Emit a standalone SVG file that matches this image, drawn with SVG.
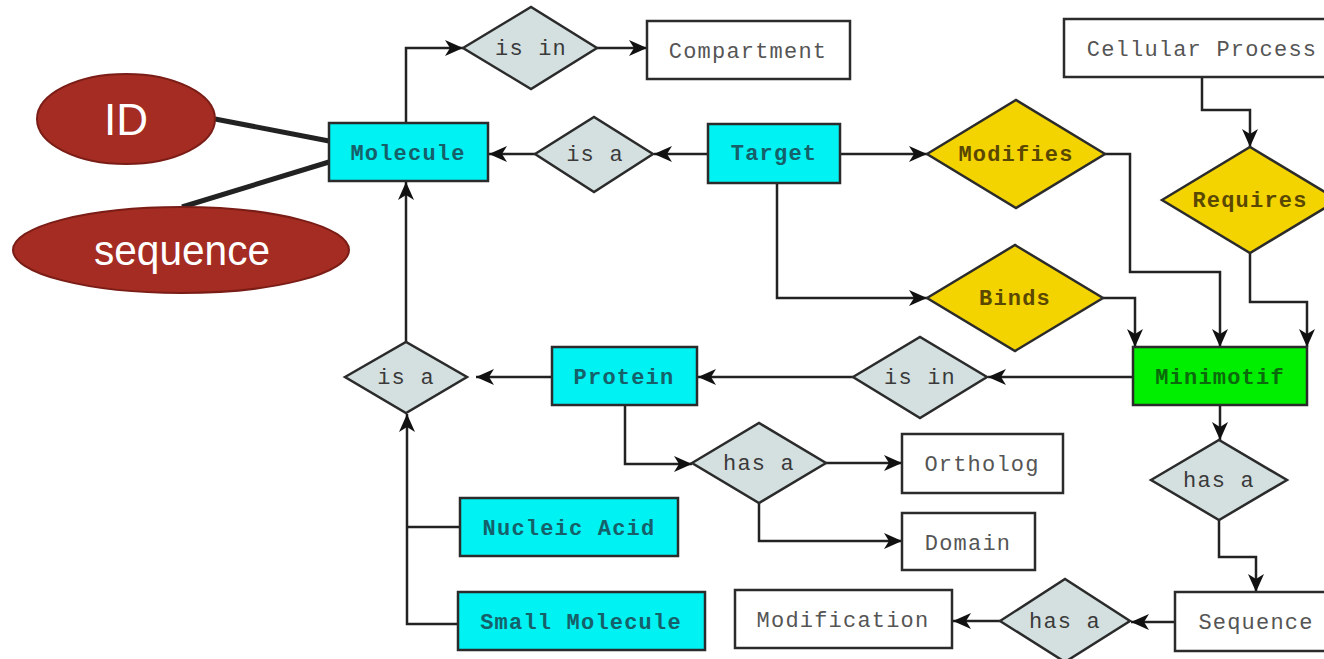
<svg xmlns="http://www.w3.org/2000/svg" width="1324" height="659" viewBox="0 0 1324 659">
  <style>
    .ent { stroke: #2b2b2b; stroke-width: 2.5; }
    .cyan { fill: #00f2f2; }
    .plain { fill: #ffffff; }
    .green { fill: #00ee00; }
    .rel { fill: #d4e0e0; stroke: #2b2b2b; stroke-width: 2.5; }
    .gold { fill: #f4d400; stroke: #2b2b2b; stroke-width: 2.5; }
    .lbl { font-family: "Liberation Mono", "DejaVu Sans Mono", monospace; font-size: 22px; text-anchor: middle; letter-spacing: 1.2px; }
    .t-cyan { fill: #16606a; font-weight: bold; }
    .t-plain { fill: #555555; }
    .t-rel { fill: #3a3a3a; }
    .t-gold { fill: #5a4800; font-weight: bold; }
    .t-green { fill: #0b6a0b; font-weight: bold; }
    .attr { fill: #a52c22; stroke: #7a1d16; stroke-width: 2; }
    .t-attr { font-family: "Liberation Sans", Arial, sans-serif; fill: #ffffff; text-anchor: middle; }
    .wire { fill: none; stroke: #222222; stroke-width: 2.5; }
    .link { fill: none; stroke: #222222; stroke-width: 5; }
  </style>
  <defs>
    <!-- notched arrowhead shared by all directed wires -->
    <marker id="arrow" markerUnits="userSpaceOnUse" markerWidth="20" markerHeight="18" refX="18" refY="8" orient="auto">
      <path d="M0,0 L18,8 L0,16 L5,8 z" fill="#111111"/>
    </marker>
  </defs>
  <rect width="1324" height="659" fill="#ffffff"/>

  <!-- connectors -->
  <g id="connectors">
    <line class="link" x1="215" y1="119" x2="329" y2="141"/>
    <line class="link" x1="182" y1="207" x2="329" y2="162"/>
    <path class="wire" d="M406,123 V48 H463" marker-end="url(#arrow)"/>
    <path class="wire" d="M597,48 H647" marker-end="url(#arrow)"/>
    <path class="wire" d="M708,154 H654" marker-end="url(#arrow)"/>
    <path class="wire" d="M535,154 H489" marker-end="url(#arrow)"/>
    <path class="wire" d="M840,154 H927" marker-end="url(#arrow)"/>
    <path class="wire" d="M777,183 V298 H927" marker-end="url(#arrow)"/>
    <path class="wire" d="M1202,77 V110 H1250 V147" marker-end="url(#arrow)"/>
    <path class="wire" d="M1105,154 H1130 V272 H1220 V347" marker-end="url(#arrow)"/>
    <path class="wire" d="M1103,298 H1135 V347" marker-end="url(#arrow)"/>
    <path class="wire" d="M1250,253 V302 H1307 V347" marker-end="url(#arrow)"/>
    <path class="wire" d="M1133,377 H988" marker-end="url(#arrow)"/>
    <path class="wire" d="M853,377 H698" marker-end="url(#arrow)"/>
    <path class="wire" d="M552,377 H476" marker-end="url(#arrow)"/>
    <path class="wire" d="M406,342 V182" marker-end="url(#arrow)"/>
    <path class="wire" d="M458,624 H407 V414" marker-end="url(#arrow)"/>
    <path class="wire" d="M460,527 H407"/>
    <path class="wire" d="M625,405 V464 H692" marker-end="url(#arrow)"/>
    <path class="wire" d="M826,463 H902" marker-end="url(#arrow)"/>
    <path class="wire" d="M759,503 V541 H902" marker-end="url(#arrow)"/>
    <path class="wire" d="M1220,405 V440" marker-end="url(#arrow)"/>
    <path class="wire" d="M1219,520 V557 H1256 V592" marker-end="url(#arrow)"/>
    <path class="wire" d="M1175,622 H1131" marker-end="url(#arrow)"/>
    <path class="wire" d="M1000,621 H953" marker-end="url(#arrow)"/>
  </g>

  <!-- attributes -->
  <g id="attr-id">
    <ellipse class="attr" cx="126" cy="119" rx="89" ry="45"/>
    <text class="t-attr" x="126" y="135" font-size="44">ID</text>
  </g>
  <g id="attr-sequence">
    <ellipse class="attr" cx="181" cy="250" rx="168" ry="43"/>
    <text class="t-attr" x="182" y="265" font-size="42" textLength="176" lengthAdjust="spacingAndGlyphs">sequence</text>
  </g>

  <!-- entities -->
  <g id="molecule">
    <rect class="ent cyan" x="329" y="123" width="159" height="58"/>
    <text class="lbl t-cyan" x="408" y="160">Molecule</text>
  </g>
  <g id="compartment">
    <rect class="ent plain" x="647" y="21" width="203" height="58"/>
    <text class="lbl t-plain" x="748" y="58">Compartment</text>
  </g>
  <g id="target">
    <rect class="ent cyan" x="708" y="124" width="132" height="59"/>
    <text class="lbl t-cyan" x="774" y="160">Target</text>
  </g>
  <g id="cellular-process">
    <rect class="ent plain" x="1064" y="19" width="280" height="58"/>
    <text class="lbl t-plain" x="1202" y="56">Cellular Process</text>
  </g>
  <g id="minimotif">
    <rect class="ent green" x="1133" y="347" width="174" height="58"/>
    <text class="lbl t-green" x="1220" y="384">Minimotif</text>
  </g>
  <g id="protein">
    <rect class="ent cyan" x="552" y="347" width="145" height="58"/>
    <text class="lbl t-cyan" x="624" y="384">Protein</text>
  </g>
  <g id="nucleic-acid">
    <rect class="ent cyan" x="460" y="498" width="218" height="58"/>
    <text class="lbl t-cyan" x="569" y="535">Nucleic Acid</text>
  </g>
  <g id="small-molecule">
    <rect class="ent cyan" x="458" y="592" width="247" height="58"/>
    <text class="lbl t-cyan" x="581" y="629">Small Molecule</text>
  </g>
  <g id="ortholog">
    <rect class="ent plain" x="902" y="434" width="161" height="59"/>
    <text class="lbl t-plain" x="982" y="471">Ortholog</text>
  </g>
  <g id="domain">
    <rect class="ent plain" x="902" y="513" width="133" height="57"/>
    <text class="lbl t-plain" x="968" y="550">Domain</text>
  </g>
  <g id="sequence">
    <rect class="ent plain" x="1175" y="592" width="170" height="59"/>
    <text class="lbl t-plain" x="1256" y="629">Sequence</text>
  </g>
  <g id="modification">
    <rect class="ent plain" x="735" y="590" width="217" height="58"/>
    <text class="lbl t-plain" x="843" y="627">Modification</text>
  </g>

  <!-- relationships -->
  <g id="rel-is-in-compartment">
    <polygon class="rel" points="463,48 531,7 597,48 531,89"/>
    <text class="lbl t-rel" x="531" y="55">is in</text>
  </g>
  <g id="rel-target-is-a">
    <polygon class="rel" points="535,154 594,117 653,154 594,192"/>
    <text class="lbl t-rel" x="595" y="161">is a</text>
  </g>
  <g id="rel-modifies">
    <polygon class="gold" points="927,154 1016,100 1105,154 1016,208"/>
    <text class="lbl t-gold" x="1016" y="161">Modifies</text>
  </g>
  <g id="rel-binds">
    <polygon class="gold" points="927,298 1015,245 1103,298 1015,351"/>
    <text class="lbl t-gold" x="1015" y="305">Binds</text>
  </g>
  <g id="rel-requires">
    <polygon class="gold" points="1162,200 1250,147 1338,200 1250,253"/>
    <text class="lbl t-gold" x="1250" y="207">Requires</text>
  </g>
  <g id="rel-is-in-protein">
    <polygon class="rel" points="853,377 920,337 987,377 920,418"/>
    <text class="lbl t-rel" x="920" y="384">is in</text>
  </g>
  <g id="rel-molecule-is-a">
    <polygon class="rel" points="345,377 406,342 467,377 406,413"/>
    <text class="lbl t-rel" x="406" y="384">is a</text>
  </g>
  <g id="rel-protein-has-a">
    <polygon class="rel" points="692,463 759,423 826,463 759,503"/>
    <text class="lbl t-rel" x="759" y="470">has a</text>
  </g>
  <g id="rel-minimotif-has-a">
    <polygon class="rel" points="1151,480 1219,440 1287,480 1219,520"/>
    <text class="lbl t-rel" x="1219" y="487">has a</text>
  </g>
  <g id="rel-sequence-has-a">
    <polygon class="rel" points="1000,621 1065,579 1130,621 1065,662"/>
    <text class="lbl t-rel" x="1065" y="628">has a</text>
  </g>
</svg>
